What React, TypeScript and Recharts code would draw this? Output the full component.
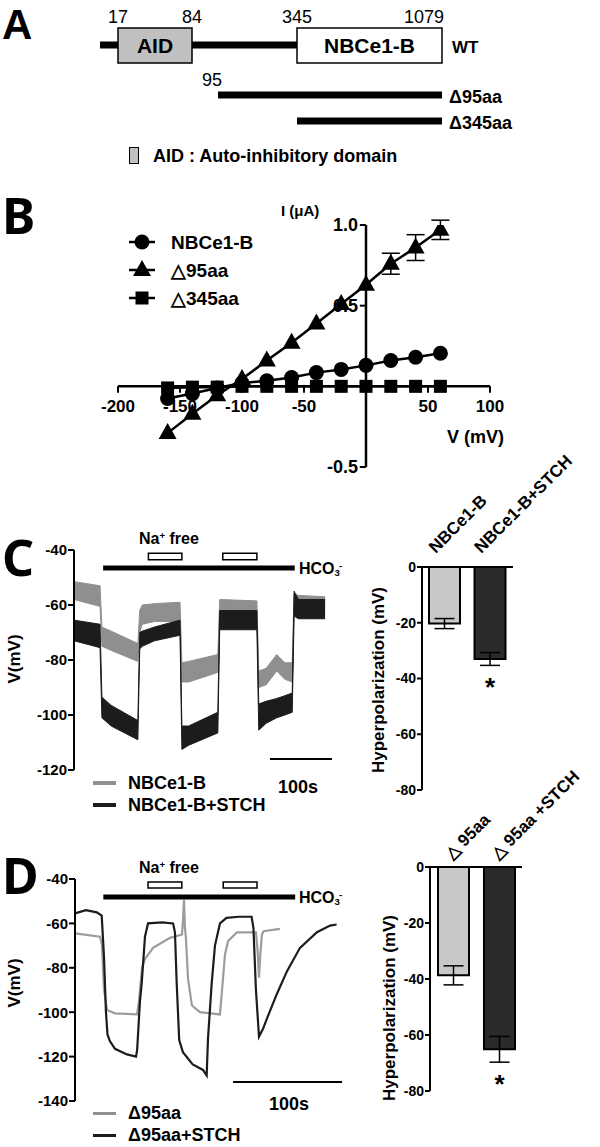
import React from 'react'
import {
  ComposedChart,
  BarChart,
  Line,
  Area,
  Bar,
  Cell,
  XAxis,
  YAxis,
  ReferenceLine,
  ReferenceArea,
  ReferenceDot,
  ErrorBar,
  LabelList,
} from 'recharts'

const FONT = '"Liberation Sans", Arial, Helvetica, sans-serif'
const LETTER_FONT = '"Noto Sans", "Liberation Sans", sans-serif'
const GREY = '#8f8f8f'
const DARK = '#1c1c1c'

// ---------- A: construct schematic (drawn positions are not to scale) ----------
const A_RESIDUES = [1, 17, 84, 95, 345, 1079]
const A_TRACK = [0, 18, 92, 118, 197, 342]
const A_ROWS = ['WT', 'Δ95aa', 'Δ345aa']
const A_ROW_Y = [45, 95, 121]
// [row, first residue, last residue] of each drawn black segment
const A_SEGMENTS = [
  [0, 1, 17],
  [0, 84, 345],
  [1, 95, 1079],
  [2, 345, 1079],
]

// ---------- B: I/V relationship ----------
const IV_V = [-160, -140, -120, -100, -80, -60, -40, -20, 0, 20, 40, 60]
const IV_NBCE1B = [-0.075, -0.045, -0.01, 0.02, 0.035, 0.055, 0.085, 0.105, 0.13, 0.16, 0.18, 0.205]
const IV_D95 = [-0.29, -0.17, -0.055, 0.045, 0.16, 0.27, 0.39, 0.51, 0.63, 0.76, 0.86, 0.97]
const IV_D95_ERR = [null, null, null, null, null, null, null, null, null, 0.065, 0.08, 0.06]
const IV_D345 = [-0.01, -0.005, -0.005, 0, 0, 0, 0, 0, 0, 0, 0, 0]
const B_XTICKS = [-200, -150, -100, -50, 50, 100]
const B_YTICKS = [1, 0.5, -0.5]
const B_YLABELS = ['1.0', '0.5', '-0.5']

// ---------- C: membrane potential traces (band = noisy trace envelope) ----------
const C_T = [0, 42, 45, 60, 103, 106, 110, 130, 171, 174, 185, 232, 235, 295, 298, 310, 327, 340, 352, 355, 362, 405]
const C_GREY_LO = [-58, -60.5, -75, -76.5, -80.5, -70, -67, -66, -66, -88, -88, -84.5, -62, -62, -90, -89, -84, -87, -88, -60, -60, -60]
const C_GREY_HI = [-51.5, -53, -68, -69.5, -74, -62, -60, -59.5, -59, -81, -80.5, -78, -58, -58.5, -84, -83, -78, -81, -81, -56, -56.5, -57]
const C_DARK_LO = [-73, -75.5, -101, -104, -109, -76, -75, -73, -71, -112.5, -111, -106.5, -69, -69, -105.5, -103, -101, -100, -99, -64, -65, -65]
const C_DARK_HI = [-65.5, -67, -93.5, -96.5, -102, -70, -69.5, -68, -65.5, -104, -104, -99, -62, -62, -96, -95, -94, -93, -92, -55, -58, -58]
const C_NA_FREE = [[120, 174], [240, 295]]
const C_HCO3 = [47, 356]
const C_SCALE = [316, 416]
const C_YTICKS = [-120, -100, -80, -60, -40]

const C_GROUPS = ['NBCe1-B', 'NBCe1-B+STCH']
const C_HYPER = [-20.3, -33.0]
const C_HYPER_ERR = [1.8, 2.3]
const C_SIG = ['', '*']

// ---------- D: Δ95aa traces ----------
const D_GREY_T = [0, 23, 24.8, 26.6, 29.4, 36.7, 56.9, 58.7, 61.5, 64.2, 71.6, 87.2, 98.2, 99.1, 100, 100.9, 101.8, 103.7, 107.3, 114.7, 133, 134.9, 137.6, 140.4, 148.6, 166, 167.5, 168.8, 170, 171.5, 173, 188]
const D_GREY_V = [-64.5, -66, -70, -90, -99, -100.5, -101, -95, -80, -76, -71, -66.5, -65, -58, -49.5, -62, -67, -85, -97, -100, -101, -90, -74, -68, -64, -64, -72, -84.5, -74, -65, -63.5, -62.5]
const D_DARK_T = [0, 10, 20, 24.5, 26.6, 28.4, 29.8, 32, 36.7, 47.7, 56, 57, 59.6, 61.2, 64.2, 67, 80, 90, 91.7, 93.3, 95.6, 99, 108, 117.4, 120.8, 122, 125.4, 128.4, 133, 139, 150, 162, 163.7, 166, 168.8, 172.5, 176, 185, 194.5, 206.4, 222, 234, 240]
const D_DARK_V = [-55.5, -54, -55, -56.5, -75, -100, -110, -113, -116.5, -119, -120, -117, -95, -87, -66, -60, -59.5, -60, -64, -87, -112.5, -118, -123.5, -126, -128.5, -112, -87, -70, -60, -57.5, -57, -57, -62, -90, -111, -107.5, -103, -92, -81.5, -71, -64, -61, -60.5]
const D_NA_FREE = [[67, 98], [136, 167]]
const D_HCO3 = [26, 202]
const D_SCALE = [145, 245]
const D_YTICKS = [-140, -120, -100, -80, -60, -40]

const D_GROUPS = ['△ 95aa', '△ 95aa +STCH']
const D_HYPER = [-38.7, -65.1]
const D_HYPER_ERR = [3.4, 4.6]
const D_SIG = ['', '*']

const HYPER_TICKS = [-80, -60, -40, -20, 0]

const track = (res: number) => A_TRACK[A_RESIDUES.indexOf(res)]

function Txt({ x, y, size, children, anchor = 'start', weight = 700, family = FONT }: any) {
  const tx = anchor === 'middle' ? '-50%' : anchor === 'end' ? '-100%' : '0'
  return (
    <div
      style={{
        position: 'absolute',
        left: x,
        top: y,
        transform: `translate(${tx}, -50%)`,
        fontSize: size,
        fontWeight: weight,
        fontFamily: family,
        lineHeight: 1,
        whiteSpace: 'nowrap',
        color: '#000',
      }}
    >
      {children}
    </div>
  )
}

function VText({ x, y, size, children }: any) {
  return (
    <div
      style={{
        position: 'absolute',
        left: x,
        top: y,
        transform: 'translate(-50%, -50%) rotate(-90deg)',
        fontSize: size,
        fontWeight: 700,
        fontFamily: FONT,
        lineHeight: 1,
        whiteSpace: 'nowrap',
        color: '#000',
      }}
    >
      {children}
    </div>
  )
}

const labelStyle = { fill: '#000', fontFamily: FONT }

function PanelA() {
  const topNumbers = [17, 84, 345]
  return (
    <div style={{ position: 'absolute', left: 0, top: 0 }}>
      <ComposedChart width={600} height={175} margin={{ top: 0, right: 158, bottom: 0, left: 100 }}>
        <XAxis type="number" dataKey="x" domain={[0, 342]} hide allowDataOverflow />
        <YAxis type="number" domain={[0, 175]} reversed hide allowDataOverflow />
        {A_SEGMENTS.map(([row, s, e], i) => (
          <Line
            key={'seg' + i}
            data={[
              { x: track(s), y: A_ROW_Y[row] },
              { x: track(e), y: A_ROW_Y[row] },
            ]}
            dataKey="y"
            type="linear"
            stroke="#000"
            strokeWidth={7}
            strokeLinecap="butt"
            dot={false}
            isAnimationActive={false}
          />
        ))}
        <ReferenceArea
          x1={track(17)}
          x2={track(84)}
          y1={28}
          y2={63}
          fill="#c0c0c0"
          fillOpacity={1}
          stroke="#000"
          strokeWidth={1.5}
          label={{ value: 'AID', position: 'center', fontSize: 21, fontWeight: 700, ...labelStyle }}
        />
        <ReferenceArea
          x1={track(345)}
          x2={track(1079)}
          y1={28}
          y2={63}
          fill="#fff"
          fillOpacity={1}
          stroke="#000"
          strokeWidth={1.5}
          label={{ value: 'NBCe1-B', position: 'center', fontSize: 21, fontWeight: 700, ...labelStyle }}
        />
        {topNumbers.map((res) => (
          <ReferenceDot key={'n' + res} x={track(res)} y={17} r={0} stroke="none" label={{ value: String(res), position: 'center', fontSize: 18, ...labelStyle }} />
        ))}
        <ReferenceDot x={track(1079)} y={17} r={0} stroke="none" label={{ value: '1079', position: 'left', offset: -2, fontSize: 18, ...labelStyle }} />
        <ReferenceDot x={track(95)} y={80} r={0} stroke="none" label={{ value: '95', position: 'left', offset: -4, fontSize: 18, ...labelStyle }} />
        {A_ROWS.map((name, i) => (
          <ReferenceDot
            key={name}
            x={track(1079)}
            y={A_ROW_Y[i] + 2}
            r={0}
            stroke="none"
            label={{ value: name, position: 'right', offset: i === 0 ? 10 : 7, fontSize: i === 0 ? 17 : 18, fontWeight: 700, ...labelStyle }}
          />
        ))}
      </ComposedChart>
      <div style={{ position: 'absolute', left: 129, top: 147, width: 8, height: 15, background: '#c0c0c0', border: '1.5px solid #000' }} />
      <Txt x={153} y={156} size={18}>AID : Auto-inhibitory domain</Txt>
    </div>
  )
}

const CircleDot = (p: any) => <circle key={`c${p.index}`} cx={p.cx} cy={p.cy} r={7.5} fill="#000" />
const TriDot = (p: any) => (
  <polygon key={`t${p.index}`} points={`${p.cx},${p.cy - 10} ${p.cx - 9},${p.cy + 6} ${p.cx + 9},${p.cy + 6}`} fill="#000" />
)
const SqDot = (p: any) => <rect key={`s${p.index}`} x={p.cx - 6.5} y={p.cy - 6.5} width={13} height={13} fill="#000" />

function LegendMark({ kind }: { kind: string }) {
  return (
    <svg width={28} height={22} style={{ display: 'block' }}>
      <line x1={1} y1={11} x2={27} y2={11} stroke="#000" strokeWidth={2.5} />
      {kind === 'c' && <circle cx={14} cy={11} r={7.5} fill="#000" />}
      {kind === 't' && <polygon points="14,1 5,17 23,17" fill="#000" />}
      {kind === 's' && <rect x={7.5} y={4.5} width={13} height={13} fill="#000" />}
    </svg>
  )
}

function PanelB() {
  const data = IV_V.map((v, i) => ({
    v,
    nbc: IV_NBCE1B[i],
    d95: IV_D95[i],
    d95Err: IV_D95_ERR[i],
    d345: IV_D345[i],
  }))
  const tickFont = { fontSize: 17, fontWeight: 700, ...labelStyle }
  const legend = [
    ['c', 'NBCe1-B', 242],
    ['t', '△95aa', 270],
    ['s', '△345aa', 298],
  ]
  return (
    <>
      <div style={{ position: 'absolute', left: 0, top: 180 }}>
        <ComposedChart width={600} height={300} margin={{ top: 45, right: 110, bottom: 13, left: 118 }} data={data}>
          <XAxis type="number" dataKey="v" domain={[-200, 100]} hide allowDataOverflow />
          <YAxis type="number" domain={[-0.5, 1]} hide allowDataOverflow />
          <ReferenceLine y={0} stroke="#000" strokeWidth={2.5} />
          <ReferenceLine x={0} stroke="#000" strokeWidth={2.5} />
          {B_XTICKS.map((t) => (
            <ReferenceLine key={'xt' + t} segment={[{ x: t, y: 0 }, { x: t, y: -0.04 }]} stroke="#000" strokeWidth={2} />
          ))}
          {B_YTICKS.map((t) => (
            <ReferenceLine key={'yt' + t} segment={[{ x: 0, y: t }, { x: -5, y: t }]} stroke="#000" strokeWidth={2} />
          ))}
          {B_XTICKS.map((t) => (
            <ReferenceDot key={'xl' + t} x={t} y={0} r={0} stroke="none" label={{ value: String(t), position: 'bottom', offset: 14, ...tickFont }} />
          ))}
          {B_YTICKS.map((t, i) => (
            <ReferenceDot key={'yl' + t} x={0} y={t} r={0} stroke="none" label={{ value: B_YLABELS[i], position: 'left', offset: 8, ...tickFont, fontSize: 18 }} />
          ))}
          <Line dataKey="d345" stroke="#000" strokeWidth={2.5} dot={SqDot} isAnimationActive={false} />
          <Line dataKey="nbc" stroke="#000" strokeWidth={2.5} dot={CircleDot} isAnimationActive={false} />
          <Line dataKey="d95" stroke="#000" strokeWidth={2.5} dot={TriDot} isAnimationActive={false}>
            <ErrorBar dataKey="d95Err" width={9} stroke="#000" strokeWidth={1.5} direction="y" />
          </Line>
        </ComposedChart>
      </div>
      {legend.map(([k, name, y]) => (
        <div key={name as string} style={{ position: 'absolute', left: 128, top: (y as number) - 11 }}>
          <LegendMark kind={k as string} />
        </div>
      ))}
      {legend.map(([, name, y]) => (
        <Txt key={'t' + name} x={171} y={y} size={19}>
          {name}
        </Txt>
      ))}
      <Txt x={281} y={210} size={15}>I (μA)</Txt>
      <Txt x={447} y={437} size={18}>V (mV)</Txt>
    </>
  )
}

function PanelCTrace() {
  const data = C_T.map((t, i) => ({
    t,
    grey: [C_GREY_LO[i], C_GREY_HI[i]],
    dark: [C_DARK_LO[i], C_DARK_HI[i]],
  }))
  return (
    <div style={{ position: 'absolute', left: 0, top: 530 }}>
      <ComposedChart width={345} height={250} margin={{ top: 20, right: 10.6, bottom: 10, left: 0 }} data={data}>
        <XAxis type="number" dataKey="t" domain={[0, 420]} hide />
        <YAxis
          type="number"
          domain={[-120, -40]}
          ticks={C_YTICKS}
          width={74}
          axisLine={{ stroke: '#000', strokeWidth: 2 }}
          tickLine={{ stroke: '#000', strokeWidth: 2 }}
          tickSize={6}
          tickMargin={1}
          tick={{ fill: '#000', fontSize: 15, fontWeight: 700, fontFamily: FONT }}
          allowDataOverflow
        />
        <Area dataKey="grey" type="linear" stroke={GREY} strokeWidth={1} fill={GREY} fillOpacity={1} isAnimationActive={false} />
        <Area dataKey="dark" type="linear" stroke={DARK} strokeWidth={1} fill={DARK} fillOpacity={1} isAnimationActive={false} />
        <ReferenceLine segment={[{ x: C_HCO3[0], y: -46.5 }, { x: C_HCO3[1], y: -46.5 }]} stroke="#000" strokeWidth={5} />
        {C_NA_FREE.map(([a, b]) => (
          <ReferenceArea key={a} x1={a} x2={b} y1={-43.5} y2={-41.2} fill="#fff" fillOpacity={1} stroke="#000" strokeWidth={1.5} />
        ))}
        <ReferenceLine segment={[{ x: C_SCALE[0], y: -116 }, { x: C_SCALE[1], y: -116 }]} stroke="#000" strokeWidth={2} />
      </ComposedChart>
    </div>
  )
}

function PanelDTrace() {
  const grey = D_GREY_T.map((t, i) => ({ t, v: D_GREY_V[i] }))
  const dark = D_DARK_T.map((t, i) => ({ t, v: D_DARK_V[i] }))
  return (
    <div style={{ position: 'absolute', left: 0, top: 860 }}>
      <ComposedChart width={360} height={250} margin={{ top: 19, right: 12.5, bottom: 9, left: 0 }}>
        <XAxis type="number" dataKey="t" domain={[0, 250]} hide />
        <YAxis
          type="number"
          domain={[-140, -40]}
          ticks={D_YTICKS}
          width={75}
          axisLine={{ stroke: '#000', strokeWidth: 2 }}
          tickLine={{ stroke: '#000', strokeWidth: 2 }}
          tickSize={6}
          tickMargin={1}
          tick={{ fill: '#000', fontSize: 15, fontWeight: 700, fontFamily: FONT }}
          allowDataOverflow
        />
        <Line data={grey} dataKey="v" type="linear" stroke="#9c9c9c" strokeWidth={2.2} dot={false} isAnimationActive={false} />
        <Line data={dark} dataKey="v" type="linear" stroke={DARK} strokeWidth={2.2} dot={false} isAnimationActive={false} />
        <ReferenceLine segment={[{ x: D_HCO3[0], y: -48.1 }, { x: D_HCO3[1], y: -48.1 }]} stroke="#000" strokeWidth={5} />
        {D_NA_FREE.map(([a, b]) => (
          <ReferenceArea key={a} x1={a} x2={b} y1={-44.1} y2={-41.4} fill="#fff" fillOpacity={1} stroke="#000" strokeWidth={1.5} />
        ))}
        <ReferenceLine segment={[{ x: D_SCALE[0], y: -131.4 }, { x: D_SCALE[1], y: -131.4 }]} stroke="#000" strokeWidth={2} />
      </ComposedChart>
    </div>
  )
}

function CatTick(props: any) {
  const { x, y, payload, shiftX = 0, shiftY = 0 } = props
  const px = x + shiftX
  const py = y + shiftY
  return (
    <text x={px} y={py} transform={`rotate(-45, ${px}, ${py})`} textAnchor="start" fontSize={17} fontWeight={700} fontFamily={FONT} fill="#000">
      {payload.value}
    </text>
  )
}

function StarMark(props: any) {
  const vb = props.viewBox || props
  const { x, y, width, height } = vb
  if (!props.value) return null
  const bottom = Math.max(y, y + height)
  return (
    <text x={x + width / 2} y={bottom + props.drop} textAnchor="middle" fontSize={26} fontWeight={700} fontFamily={FONT} fill="#000">
      {props.value}
    </text>
  )
}

function HyperBars({ groups, values, errs, sig, top, left, plotW, plotH, drop, shiftX, shiftY, marginLeft }: any) {
  const data = groups.map((name: string, i: number) => ({ name, val: values[i], err: errs[i], sig: sig[i] }))
  const fills = ['#c8c8c8', '#2a2a2a']
  const height = 400
  return (
    <div style={{ position: 'absolute', left, top }}>
      <BarChart
        width={260}
        height={height}
        data={data}
        margin={{ top: 97, right: 260 - marginLeft - 50 - plotW, bottom: height - 97 - 30 - plotH, left: marginLeft }}
        barSize={31}
      >
        <XAxis
          dataKey="name"
          orientation="top"
          height={30}
          interval={0}
          axisLine={{ stroke: '#000', strokeWidth: 2 }}
          tickLine={false}
          tick={<CatTick shiftX={shiftX} shiftY={shiftY} />}
        />
        <YAxis
          type="number"
          domain={[-80, 0]}
          ticks={HYPER_TICKS}
          width={50}
          axisLine={{ stroke: '#000', strokeWidth: 2 }}
          tickLine={{ stroke: '#000', strokeWidth: 2 }}
          tickSize={5}
          tickMargin={1}
          tick={{ fill: '#000', fontSize: 14, fontWeight: 700, fontFamily: FONT }}
        />
        <Bar dataKey="val" stroke="#000" strokeWidth={2} isAnimationActive={false}>
          {data.map((_: any, i: number) => (
            <Cell key={i} fill={fills[i]} />
          ))}
          <ErrorBar dataKey="err" width={10} stroke="#000" strokeWidth={1.5} direction="y" />
          <LabelList dataKey="sig" content={<StarMark drop={drop} />} />
        </Bar>
      </BarChart>
    </div>
  )
}

function TraceLegend({ y1, y2, a, b, thick }: any) {
  return (
    <>
      <div style={{ position: 'absolute', left: 93, top: y1 - thick / 2, width: 23, height: thick, background: GREY }} />
      <div style={{ position: 'absolute', left: 93, top: y2 - thick / 2, width: 23, height: thick, background: DARK }} />
      <Txt x={128} y={y1} size={18}>{a}</Txt>
      <Txt x={128} y={y2} size={18}>{b}</Txt>
    </>
  )
}

const NaFree = () => (
  <>
    Na<sup style={{ fontSize: '0.6em', verticalAlign: '0.5em', lineHeight: 0 }}>+</sup> free
  </>
)
const Hco3 = () => (
  <>
    HCO
    <sub style={{ fontSize: '0.6em', verticalAlign: '-0.25em', lineHeight: 0 }}>3</sub>
    <sup style={{ fontSize: '0.6em', verticalAlign: '0.55em', lineHeight: 0, marginLeft: -1 }}>-</sup>
  </>
)

export default function App() {
  return (
    <div style={{ position: 'absolute', left: 0, top: 0, width: 600, height: 1147, background: '#fff', fontFamily: FONT, overflow: 'hidden' }}>
      <PanelA />
      <PanelB />
      <PanelCTrace />
      <PanelDTrace />
      <HyperBars
        groups={C_GROUPS}
        values={C_HYPER}
        errs={C_HYPER_ERR}
        sig={C_SIG}
        top={440}
        left={340}
        plotW={91}
        plotH={223}
        marginLeft={32}
        drop={37}
        shiftX={-9}
        shiftY={-5}
      />
      <HyperBars
        groups={D_GROUPS}
        values={D_HYPER}
        errs={D_HYPER_ERR}
        sig={D_SIG}
        top={740}
        left={340}
        plotW={92}
        plotH={224}
        marginLeft={40}
        drop={44}
        shiftX={-1}
        shiftY={1}
      />

      <Txt x={2} y={25} size={42} family={FONT}>A</Txt>
      <Txt x={2} y={215} size={50} family={LETTER_FONT}>B</Txt>
      <Txt x={2} y={557} size={50} family={LETTER_FONT}>C</Txt>
      <Txt x={2} y={875} size={50} family={LETTER_FONT}>D</Txt>

      <Txt x={139} y={539} size={16}><NaFree /></Txt>
      <Txt x={299} y={569} size={16}><Hco3 /></Txt>
      <Txt x={278} y={787} size={18}>100s</Txt>
      <VText x={14} y={659} size={17}>V(mV)</VText>
      <TraceLegend y1={783} y2={805} a="NBCe1-B" b="NBCe1-B+STCH" thick={4} />
      <VText x={378} y={680} size={17}>Hyperpolarization (mV)</VText>

      <Txt x={139} y={868} size={16}><NaFree /></Txt>
      <Txt x={299} y={898} size={16}><Hco3 /></Txt>
      <Txt x={269} y={1104} size={18}>100s</Txt>
      <VText x={14} y={983} size={17}>V(mV)</VText>
      <TraceLegend y1={1113} y2={1135} a="Δ95aa" b="Δ95aa+STCH" thick={3} />
      <VText x={389} y={1008} size={17}>Hyperpolarization (mV)</VText>
    </div>
  )
}
